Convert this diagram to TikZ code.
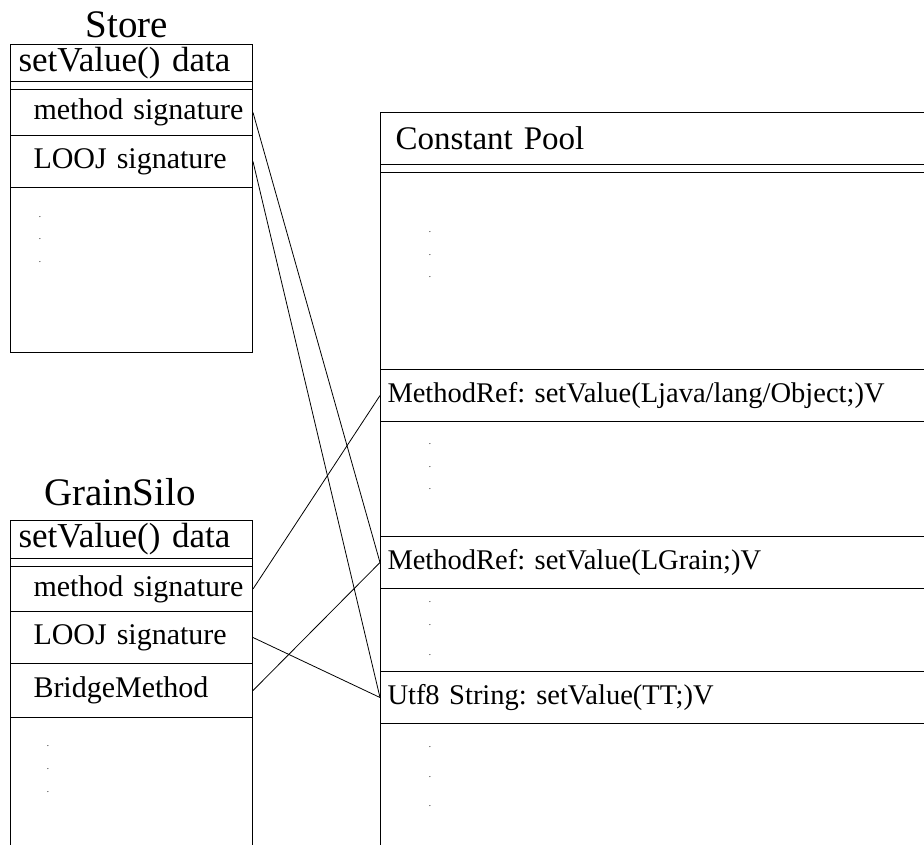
\documentclass[tikz,border=0pt]{standalone}
\usepackage{fontspec}
\setmainfont{Liberation Serif}
\frenchspacing
\usetikzlibrary{shapes,arrows}
\tikzstyle{frame} = [draw, line width=1pt]
\tikzstyle{slot} = [rectangle, draw, line width=1pt, anchor=north west,
    inner ysep=0pt, align=left]
\tikzstyle{header} = [slot, text width=226pt, inner xsep=8pt,
    font=\fontsize{35}{40}\selectfont]
\tikzstyle{member} = [slot, text width=238pt, inner xsep=2pt,
    execute at begin node=\hspace*{21pt}, font=\fontsize{30}{36}\selectfont]
\tikzstyle{poolhead} = [slot, text width=520pt, inner xsep=15pt,
    minimum height=52pt, font=\fontsize{33}{38}\selectfont]
\tikzstyle{entry} = [slot, text width=536pt, inner xsep=7pt,
    minimum height=52pt, font=\fontsize{28.5}{34}\selectfont]
\tikzstyle{classname} = [anchor=base, inner sep=0pt,
    font=\fontsize{39}{44}\selectfont]
\tikzstyle{dotmark} = [inner sep=0pt, font=\fontsize{9}{10}\selectfont]
\tikzstyle{link} = [draw, line width=0.8pt]

\begin{document}
\begin{tikzpicture}[x=1pt, y=-1pt]
    \useasboundingbox (0,0) rectangle (924,844);
    \clip (0,0) rectangle (924,844);
    % Store
    \node[classname] (storetitle) at (127,37) {Store};
    \draw[frame] (10,44) rectangle (252,352);
    \node[header, minimum height=37pt] (storehead) at (10,44) {setValue() data};
    \node[member, minimum height=46pt] (storemeth) at (10,89) {method signature};
    \node[member, minimum height=52pt] (storelooj) at (10,135) {LOOJ signature};
    \foreach \y in {217,239,262}
      \node[dotmark] at (40,\y) {.};
    % GrainSilo
    \node[classname] (silotitle) at (120,505) {GrainSilo};
    \draw[frame] (10,520) rectangle (252,860);
    \node[header, minimum height=38pt] (silohead) at (10,520) {setValue() data};
    \node[member, minimum height=45pt] (silometh) at (10,566) {method signature};
    \node[member, minimum height=52pt] (silolooj) at (10,611) {LOOJ signature};
    \node[member, minimum height=54pt] (silobridge) at (10,663) {BridgeMethod};
    \foreach \y in {746,769,792}
      \node[dotmark] at (48,\y) {.};
    % Constant Pool
    \draw[frame] (380,112) rectangle (930,860);
    \node[poolhead] (pooltitle) at (380,112) {Constant Pool};
    \draw[frame] (380,172) -- (930,172);
    \node[entry] (cpobject) at (380,369) {MethodRef: setValue(Ljava/lang/Object;)V};
    \node[entry] (cpgrain) at (380,536) {MethodRef: setValue(LGrain;)V};
    \node[entry] (cputf) at (380,671) {Utf8 String: setValue(TT;)V};
    \foreach \y in {232,255,277,444,467,489,602,625,655,747,777,806}
      \node[dotmark] at (430,\y) {.};
    % links
    \draw[link] (storemeth.east) -- (cpgrain.west);
    \draw[link] (storelooj.east) -- (cputf.west);
    \draw[link] (silometh.east) -- (cpobject.west);
    \draw[link] (silolooj.east) -- (cputf.west);
    \draw[link] (silobridge.east) -- (cpgrain.west);
\end{tikzpicture}
\end{document}
